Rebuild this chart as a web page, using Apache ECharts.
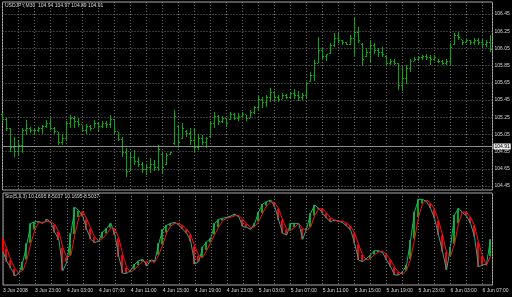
<!DOCTYPE html>
<html><head><meta charset="utf-8">
<script src="https://cdn.jsdelivr.net/npm/echarts@6/dist/echarts.min.js"></script>
<style>html,body{margin:0;padding:0;background:#000;}#c{width:512px;height:297px;}</style>
</head><body><div id="c"></div>
<script>
const headerText = 'USDJPY,M30  104.94 104.97 104.89 104.91';
const stochText = 'Sto(5,3,3) 10.1695 8.5037 10.1695 8.5037';
const timeLabels = ['3 Jun 2008','3 Jun 23:00','4 Jun 03:00','4 Jun 07:00','4 Jun 11:00','4 Jun 15:00','4 Jun 19:00','4 Jun 23:00',
  '5 Jun 03:00','5 Jun 07:00','5 Jun 11:00','5 Jun 15:00','5 Jun 19:00','5 Jun 23:00','6 Jun 03:00','6 Jun 07:00'];
const priceTicks = [104.45,104.65,104.85,105.05,105.25,105.45,105.65,105.85,106.05,106.25,106.45];
const stochTicks = [0,100];
const currentPrice = 104.91;

const openP = [105.28,105.22,105.12,104.90,104.85,104.92,105.10,105.12,105.10,105.10,
105.12,105.14,105.18,105.12,105.08,104.96,105.00,105.18,105.24,105.20,
105.16,105.10,105.14,105.12,105.18,105.14,105.18,105.16,105.22,105.08,
104.99,104.84,104.62,104.78,104.74,104.70,104.64,104.66,104.70,104.66,
104.82,104.70,104.82,104.94,105.14,105.00,105.08,105.06,104.98,104.90,
105.00,104.96,105.02,105.18,105.26,105.20,105.24,105.22,105.28,105.24,
105.26,105.28,105.24,105.30,105.36,105.46,105.42,105.48,105.54,105.48,
105.46,105.50,105.48,105.52,105.50,105.48,105.50,105.66,105.74,105.88,
106.02,105.96,105.99,106.08,106.16,106.14,106.12,106.10,106.16,106.24,
106.10,105.95,106.00,106.08,106.02,106.00,105.96,105.88,105.90,105.88,
105.62,105.70,105.82,105.90,105.92,105.94,105.96,105.94,105.92,105.90,
105.90,105.88,105.90,106.09,106.20,106.15,106.12,106.14,106.12,106.14,
106.12,106.10,106.12];
const highP = [105.30,105.24,105.12,105.02,104.97,105.12,105.22,105.14,105.12,105.14,
105.16,105.22,105.24,105.14,105.08,105.06,105.20,105.28,105.26,105.24,
105.16,105.17,105.16,105.22,105.18,105.21,105.20,105.28,105.22,105.08,
105.02,104.89,104.83,104.87,104.79,104.73,104.71,104.77,104.75,104.93,
104.83,104.83,104.85,105.33,105.16,105.18,105.10,105.12,105.12,105.06,
105.04,105.02,105.20,105.31,105.28,105.26,105.24,105.31,105.30,105.30,
105.31,105.28,105.33,105.38,105.50,105.48,105.51,105.59,105.55,105.51,
105.53,105.52,105.54,105.58,105.55,105.53,105.66,105.78,105.92,106.18,
106.05,105.99,106.11,106.23,106.23,106.15,106.13,106.21,106.42,106.30,
106.11,106.05,106.15,106.11,106.05,106.07,105.97,105.93,105.93,105.88,
105.84,105.86,105.93,105.95,105.95,105.97,105.99,105.97,105.97,105.93,
105.92,105.93,106.11,106.23,106.24,106.15,106.17,106.15,106.17,106.17,
106.17,106.15,106.21];
const lowP = [105.20,105.09,104.85,104.79,104.81,104.83,105.04,105.07,105.04,105.08,
105.06,105.12,105.10,105.06,104.93,104.93,104.98,105.12,105.12,105.14,
105.08,105.06,105.09,105.12,105.09,105.12,105.12,105.12,105.06,104.97,
104.79,104.56,104.62,104.69,104.67,104.60,104.58,104.60,104.62,104.62,
104.60,104.69,104.81,104.93,104.89,105.00,105.02,104.93,104.85,104.87,
104.93,104.89,105.02,105.12,105.16,105.18,105.14,105.22,105.22,105.20,
105.24,105.20,105.24,105.29,105.32,105.36,105.37,105.43,105.44,105.43,
105.46,105.46,105.47,105.46,105.44,105.45,105.46,105.66,105.67,105.88,
105.92,105.90,105.99,106.07,106.11,106.09,106.09,106.09,105.95,106.11,
105.84,105.95,105.88,105.99,105.95,105.95,105.84,105.86,105.86,105.57,
105.55,105.64,105.78,105.90,105.90,105.92,105.92,105.86,105.90,105.88,
105.86,105.86,105.84,106.09,106.15,106.09,106.11,106.09,106.09,106.09,
106.07,106.07,106.01];
const closeP = [105.22,105.12,104.90,104.85,104.92,105.10,105.12,105.10,105.10,105.12,
105.14,105.18,105.12,105.08,104.96,105.00,105.18,105.24,105.20,105.16,
105.10,105.14,105.12,105.18,105.14,105.18,105.16,105.22,105.08,104.99,
104.84,104.62,104.78,104.74,104.70,104.64,104.66,104.70,104.66,104.88,
104.66,104.80,104.84,105.26,104.96,105.12,105.06,104.98,104.90,105.00,
104.96,105.00,105.18,105.26,105.20,105.24,105.18,105.28,105.24,105.26,
105.28,105.24,105.30,105.36,105.46,105.42,105.48,105.54,105.48,105.46,
105.50,105.48,105.52,105.50,105.48,105.50,105.64,105.74,105.88,106.02,
105.96,105.98,106.08,106.16,106.14,106.12,106.10,106.16,106.24,106.14,
105.92,106.00,106.08,106.02,106.00,105.98,105.88,105.90,105.88,105.62,
105.70,105.82,105.90,105.92,105.94,105.96,105.94,105.92,105.94,105.90,
105.88,105.90,106.06,106.20,106.18,106.12,106.14,106.12,106.14,106.12,
106.10,106.12,106.04];
const stochMain = [36.7,25.4,17.8,9.1,12.1,25.4,46.2,68.9,70.8,70.8,
68.9,73.5,69.7,58.3,50.0,15.2,25.4,57.6,87.1,83.3,
76.5,61.4,50.8,47.0,49.2,59.5,63.3,68.9,55.7,31.1,
12.1,12.1,15.9,22.7,26.5,28.0,20.5,27.3,26.5,46.2,
62.1,67.0,68.9,70.1,67.0,62.1,57.6,48.1,22.7,25.4,
42.4,48.1,51.9,68.9,73.5,74.6,75.8,77.3,79.5,76.5,
65.2,64.4,62.1,68.9,82.2,90.9,93.6,95.5,87.9,72.7,
57.6,55.7,68.9,68.9,68.9,50.8,63.3,80.3,89.8,86.0,
80.3,74.6,70.8,72.7,71.6,69.7,65.9,61.4,46.2,27.3,
25.4,29.2,33.0,37.9,37.9,35.6,27.3,19.7,10.2,10.2,
14.0,21.6,50.0,82.2,96.2,96.2,93.6,86.0,74.6,55.7,
36.7,15.9,42.4,78.4,86.0,81.1,77.3,68.9,53.8,19.7,
21.6,22.7,50.8];
const stochSignal = [52.0,40.0,26.6,17.4,13.0,15.5,27.9,46.8,62.0,70.2,
70.2,71.1,70.7,67.2,59.3,41.2,30.2,32.7,56.7,76.0,
82.3,73.7,62.9,53.1,49.0,51.9,57.3,63.9,62.6,51.9,
33.0,18.4,13.4,16.9,21.7,25.7,25.0,25.3,24.8,33.3,
44.9,58.4,66.0,68.7,68.7,66.4,62.2,55.9,42.8,32.1,
30.2,38.6,47.5,56.3,64.8,72.3,74.6,75.9,77.5,77.8,
73.7,68.7,63.9,65.1,71.1,80.7,88.9,93.3,92.3,85.4,
72.7,62.0,60.7,64.5,68.9,62.9,61.0,64.8,77.8,85.4,
85.4,80.3,75.2,72.7,71.7,71.3,69.1,65.7,57.8,45.0,
33.0,27.3,29.2,33.4,36.3,37.1,33.6,27.5,19.1,13.4,
11.5,15.3,28.5,51.3,76.1,91.5,95.3,91.9,84.7,72.1,
55.7,36.1,31.7,45.6,68.9,81.8,81.5,75.8,66.7,47.5,
31.7,21.3,31.7];

const BAR = '#00b000', UPF = '#00b000', DNF = '#ff0000', MAINC = '#26a69a', SIGC = '#ff1010';
const GRIDC = '#707070', FRAME = '#a8a8a8', TXT = '#d8d8d8';
const FONT = 'Liberation Sans';

const ohlc = openP.map((o, i) => [i, o, highP[i], lowP[i], closeP[i]]);
const fillData = stochMain.map((m, i) => [i, m, stochSignal[i]]);

function renderBar(params, api) {
  const i = api.value(0);
  const x = Math.round(api.coord([i, api.value(2)])[0] - 0.5);
  const yO = Math.round(api.coord([i, api.value(1)])[1] - 0.5);
  const yH = Math.round(api.coord([i, api.value(2)])[1]);
  const yL = Math.round(api.coord([i, api.value(3)])[1]);
  const yC = Math.round(api.coord([i, api.value(4)])[1] - 0.5);
  return { type: 'group', children: [
    { type: 'rect', shape: { x: x, y: yH, width: 1, height: Math.max(1, yL - yH) }, style: { fill: BAR } },
    { type: 'rect', shape: { x: x - 1, y: yO, width: 1, height: 1 }, style: { fill: BAR } },
    { type: 'rect', shape: { x: x + 1, y: yC, width: 1, height: 1 }, style: { fill: BAR } }
  ]};
}
function renderFill(params, api) {
  const i = api.value(0), m = api.value(1), s = api.value(2);
  const p1 = api.coord([i, m]), p2 = api.coord([i, s]);
  const x = Math.round(p1[0] - 0.5);
  const top = Math.min(p1[1], p2[1]), bot = Math.max(p1[1], p2[1]);
  return { type: 'rect', shape: { x: x - 1, y: top, width: 2, height: Math.max(1, bot - top) },
    style: { fill: m >= s ? UPF : DNF } };
}

const chart = echarts.init(document.getElementById('c'), null, { renderer: 'canvas' });
const splitX = { show: true, lineStyle: { color: GRIDC, type: [1, 2], width: 1 } };
chart.setOption({
  animation: false,
  backgroundColor: '#000',
  grid: [
    { left: 2.5, top: 2, width: 490, height: 188, show: true, borderColor: FRAME, borderWidth: 1, backgroundColor: '#000' },
    { left: 2.5, top: 193, width: 490, height: 92, show: true, borderColor: FRAME, borderWidth: 1, backgroundColor: '#000' }
  ],
  xAxis: [
    { gridIndex: 0, type: 'value', min: 0, max: 122.5, interval: 4,
      axisLine: { show: false }, axisTick: { show: false }, axisLabel: { show: false }, splitLine: splitX },
    { gridIndex: 1, type: 'value', min: 0, max: 122.5, interval: 4,
      axisLine: { show: false }, axisTick: { show: false }, splitLine: splitX,
      axisLabel: { show: true, color: TXT, fontSize: 5, fontFamily: FONT, margin: 3, align: 'left',
        formatter: v => (v % 8 === 0 && v / 8 < timeLabels.length) ? timeLabels[v / 8] : '' } }
  ],
  yAxis: [
    { gridIndex: 0, type: 'value', min: 104.4035, max: 106.5895,
      axisLine: { show: false }, axisTick: { show: false }, axisLabel: { show: false }, splitLine: { show: false } },
    { gridIndex: 1, type: 'value', min: -1.14, max: 103.41,
      axisLine: { show: false }, axisTick: { show: false }, axisLabel: { show: false }, splitLine: { show: false } }
  ],
  graphic: [
    { type: 'text', left: 5, top: 3, style: { text: headerText, fill: TXT, font: '5px "' + FONT + '"' } },
    { type: 'text', left: 5, top: 194, style: { text: stochText, fill: TXT, font: '5px "' + FONT + '"' } }
  ],
  series: [
    { type: 'line', xAxisIndex: 0, yAxisIndex: 0, data: closeP.map((v, i) => [i, v]), showSymbol: false,
      lineStyle: { opacity: 0 }, silent: true, z: 1,
      markLine: { silent: true, symbol: ['none', 'none'], animation: false, precision: 2,
        data: priceTicks.map(v => ({ yAxis: v, lineStyle: { color: GRIDC, type: [1, 2], width: 1 },
            label: { show: true, position: 'end', distance: 2, color: TXT, fontSize: 5, fontFamily: FONT,
              formatter: p => Number(p.value).toFixed(2) } }))
          .concat([{ yAxis: currentPrice, lineStyle: { color: '#8c8c8c', type: 'solid', width: 1 },
            label: { show: true, position: 'end', distance: 1, color: '#000', backgroundColor: '#e8e8e8',
              padding: [1, 1, 0, 1], fontSize: 5, fontFamily: FONT, formatter: p => Number(p.value).toFixed(2) } }]) } },
    { type: 'custom', xAxisIndex: 0, yAxisIndex: 0, data: ohlc, renderItem: renderBar, clip: false, z: 3 },
    { type: 'custom', xAxisIndex: 1, yAxisIndex: 1, data: fillData, renderItem: renderFill, clip: false, z: 2 },
    { type: 'line', xAxisIndex: 1, yAxisIndex: 1, data: stochMain.map((v, i) => [i, v]), showSymbol: false,
      lineStyle: { color: MAINC, width: 1 }, z: 3,
      markLine: { silent: true, symbol: ['none', 'none'], animation: false,
        data: stochTicks.map(v => ({ yAxis: v, lineStyle: { opacity: 0 },
          label: { show: true, position: 'end', distance: 2, color: TXT, fontSize: 5, fontFamily: FONT,
            formatter: p => String(p.value) } })) } },
    { type: 'line', xAxisIndex: 1, yAxisIndex: 1, data: stochSignal.map((v, i) => [i, v]), showSymbol: false,
      lineStyle: { color: SIGC, width: 1 }, z: 4 }
  ]
});
</script></body></html>
